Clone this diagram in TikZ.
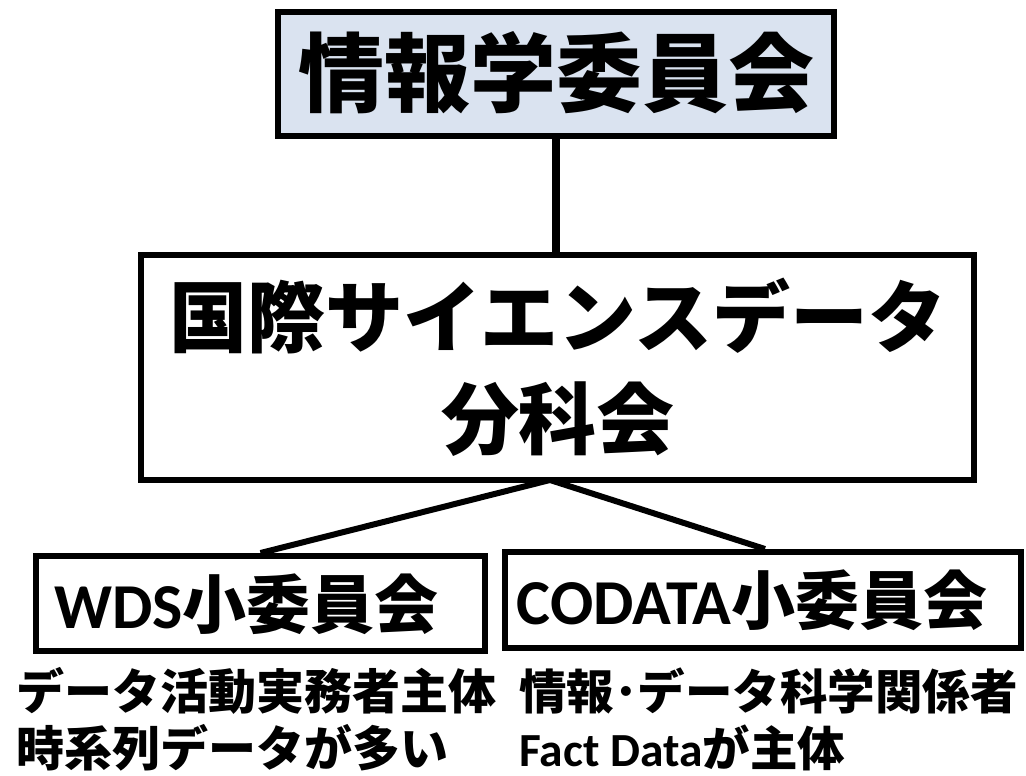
\documentclass[tikz,border=0pt]{standalone}
\usepackage{fontspec}
\setmainfont{Carlito}
\newfontfamily\cjk{Noto Sans CJK JP}
\newcommand\latf{\normalfont\bfseries}
\usetikzlibrary{calc}
\definecolor{topfill}{HTML}{DAE3F0}
\pgfdeclarelayer{bg}
\pgfsetlayers{bg,main}
\begin{document}
\begin{tikzpicture}[x=1pt,y=-1pt,
  box/.style={draw=black, line width=6pt, inner sep=0pt, fill=white},
  conn/.style={draw=black, line width=6pt},
  txt/.style={inner sep=0pt, text=black}]
\useasboundingbox (0,0) rectangle (1026,776);
% boxes
\node[box, fill=topfill, minimum width=556, minimum height=123] (top) at (556,74) {};
\node[box, minimum width=833, minimum height=225.5] (mid) at (557.5,367.25) {};
\node[box, minimum width=449, minimum height=95] (wds) at (260.5,603.5) {};
\node[box, minimum width=515.5, minimum height=96] (codata) at (763,600) {};
% texts
\node[txt, font=\cjk\bfseries\fontsize{86}{86}\selectfont] (toptxt) at ($(top.center)+(0,-1.5)$) {情報学委員会};
\node[txt, align=center, font=\cjk\bfseries\fontsize{78}{102}\selectfont] (midtxt) at (558,367.5) {国際サイエンスデータ\\分科会};
\node[txt, anchor=west, font=\latf\fontsize{64}{64}\selectfont] (wdstxt) at ($(wds.west)+(21,0.5)$) {WDS{\cjk\bfseries 小委員会}};
\node[txt, anchor=west, font=\latf\fontsize{64}{64}\selectfont] (codtxt) at ($(codata.west)+(14.5,0)$) {CODATA{\cjk\bfseries 小委員会}};
\node[txt, anchor=west, align=left, font=\cjk\bfseries\fontsize{48}{57}\selectfont] (note1) at (16,719.5) {データ活動実務者主体\\時系列データが多い};
\node[txt, anchor=west, align=left, font=\cjk\bfseries\fontsize{47.5}{57}\selectfont] (note2) at (519,719.5) {情報･データ科学関係者\\{\latf Fact Data}が主体};
% connectors
\coordinate (apex) at (550,480);
\begin{pgfonlayer}{bg}
\draw[line width=8pt] (top.south) -- (top.south |- mid.north);
\draw[conn] (apex) -- (wds.north);
\draw[conn] (apex) -- ($(codata.north)+(2,0)$);
\end{pgfonlayer}
\end{tikzpicture}
\end{document}
